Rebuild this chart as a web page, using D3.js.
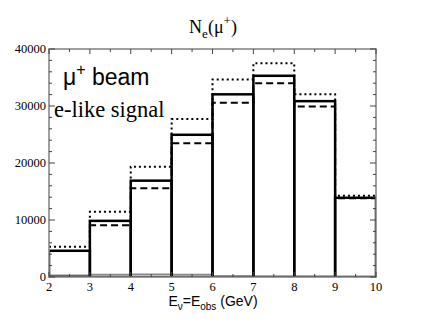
<!DOCTYPE html>
<html><head><meta charset="utf-8">
<script src="https://cdn.jsdelivr.net/npm/d3@7"></script>
<style>
body{margin:0;background:#fff;}
svg{display:block;}
</style></head>
<body>
<svg id="chart" width="423" height="327"></svg>
<script>
// Data
const binEdges = [2, 3, 4, 5, 6, 7, 8, 9, 10];
const solidValues  = [4600, 9850, 16900, 24950, 32050, 35300, 30850, 13900];
const dashedValues = [4550, 9100, 15550, 23450, 30550, 34000, 29900, 13800];
const dottedValues = [5300, 11450, 19350, 27700, 34650, 37500, 32050, 14250];
const grayValues   = [300, 450, 500, 450, 150, 100, 80, 50];
const xTicks = [2, 3, 4, 5, 6, 7, 8, 9, 10];
const yTicks = [0, 10000, 20000, 30000, 40000];

const svg = d3.select("#chart");
const L = 49, T = 49, R = 376, B = 277;
const x = d3.scaleLinear().domain([2, 10]).range([L, R]);
const y = d3.scaleLinear().domain([0, 40000]).range([B, T]);

const serif = "'Liberation Serif', 'Times New Roman', serif";
const sans = "'Liberation Sans', Arial, sans-serif";

svg.append("defs").append("clipPath").attr("id","clip")
  .append("rect").attr("x", L).attr("y", T).attr("width", R-L).attr("height", B-T);

const plot = svg.append("g").attr("clip-path","url(#clip)");

// step path helper
function stepData(vals){
  const pts = [];
  vals.forEach((v,i)=>{ pts.push([binEdges[i], v]); pts.push([binEdges[i+1], v]); });
  return pts;
}
const line = d3.line().x(d=>x(d[0])).y(d=>y(d[1]));

// gray near-zero line
plot.append("path").datum(stepData(grayValues)).attr("d", line)
  .attr("fill","none").attr("stroke","#888").attr("stroke-width",1.5);

// dotted
plot.append("path").datum(stepData(dottedValues)).attr("d", line)
  .attr("fill","none").attr("stroke","#000").attr("stroke-width",2)
  .attr("stroke-dasharray","2,3");

// solid bars
plot.selectAll("rect.bar").data(solidValues).enter().append("rect")
  .attr("class","bar")
  .attr("x",(d,i)=>x(binEdges[i]))
  .attr("y",d=>y(d))
  .attr("width",(d,i)=>x(binEdges[i+1])-x(binEdges[i]))
  .attr("height",d=>y(0)-y(d))
  .attr("fill","none").attr("stroke","#000").attr("stroke-width",2.5);

// dashed
plot.append("path").datum(stepData(dashedValues)).attr("d", line)
  .attr("fill","none").attr("stroke","#000").attr("stroke-width",2)
  .attr("stroke-dasharray","7,4");

// frame
svg.append("rect").attr("x",L).attr("y",T).attr("width",R-L).attr("height",B-T)
  .attr("fill","none").attr("stroke","#888").attr("stroke-width",1.6);

// ticks
const tk = svg.append("g").attr("stroke","#444").attr("stroke-width",1);
d3.range(2, 10.01, 0.5).forEach(v=>{
  const major = Math.abs(v-Math.round(v))<1e-6;
  const len = major?5:3;
  tk.append("line").attr("x1",x(v)).attr("x2",x(v)).attr("y1",B).attr("y2",B-len);
  tk.append("line").attr("x1",x(v)).attr("x2",x(v)).attr("y1",T).attr("y2",T+len);
});
d3.range(0, 40001, 2000).forEach(v=>{
  const major = v%10000===0;
  const len = major?6:3;
  tk.append("line").attr("x1",L).attr("x2",L+len).attr("y1",y(v)).attr("y2",y(v));
  tk.append("line").attr("x1",R).attr("x2",R-len).attr("y1",y(v)).attr("y2",y(v));
});

// tick labels
svg.append("g").selectAll("text").data(xTicks).enter().append("text")
  .attr("x",d=>x(d)).attr("y",291).attr("text-anchor","middle")
  .attr("font-family",serif).attr("font-size",12.5).text(d=>d);
svg.append("g").selectAll("text").data(yTicks).enter().append("text")
  .attr("x",46).attr("y",d=>y(d)+4).attr("text-anchor","end")
  .attr("font-family",serif).attr("font-size",12.5).text(d=>d);

// title
const title = svg.append("text").attr("x",213).attr("y",33).attr("text-anchor","middle")
  .attr("font-family",serif).attr("font-size",18);
title.append("tspan").text("N");
title.append("tspan").attr("font-size",13).attr("dy",5).text("e");
title.append("tspan").attr("dy",-5).text("(μ");
title.append("tspan").attr("font-size",13).attr("dy",-8).text("+");
title.append("tspan").attr("dy",8).text(")");

// mu+ beam
const beam = svg.append("text").attr("x",63).attr("y",85)
  .attr("font-family",sans).attr("font-size",23);
beam.append("tspan").text("μ");
beam.append("tspan").attr("font-size",16).attr("dy",-10).text("+");
beam.append("tspan").attr("dy",10).text(" beam");

// e-like signal
svg.append("text").attr("x",54).attr("y",117).attr("font-family",serif)
  .attr("font-size",22.5).text("e-like signal");

// x-axis label
const xl = svg.append("text").attr("x",213).attr("y",306).attr("text-anchor","middle")
  .attr("font-family",sans).attr("font-size",14);
xl.append("tspan").text("E");
xl.append("tspan").attr("font-size",10).attr("dy",4).text("ν");
xl.append("tspan").attr("dy",-4).text("=E");
xl.append("tspan").attr("font-size",10).attr("dy",4).text("obs");
xl.append("tspan").attr("dy",-4).text(" (GeV)");
</script>
</body></html>
